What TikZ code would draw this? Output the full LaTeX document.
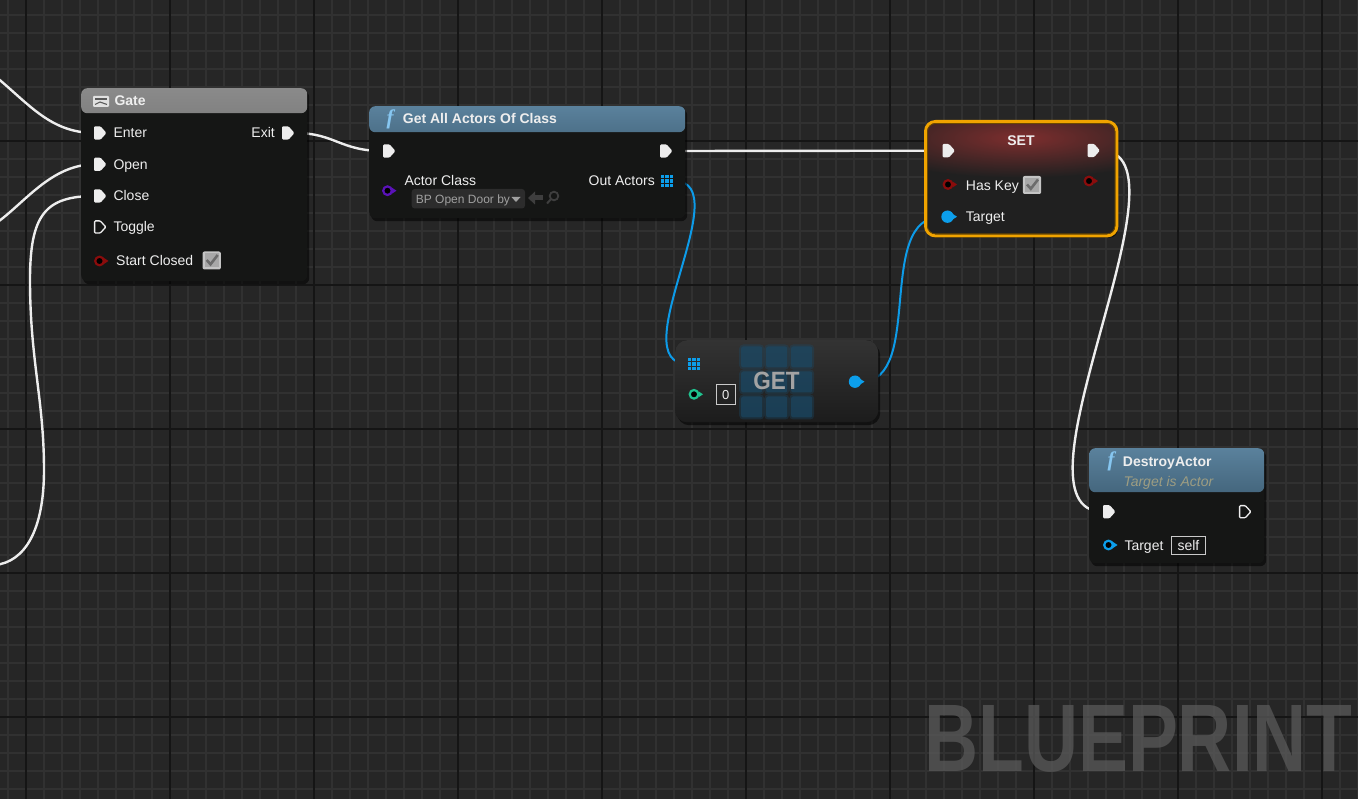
\documentclass[tikz,border=0pt]{standalone}
\usepackage{fontspec}
\setmainfont{Liberation Sans}
\newfontfamily\iconfont{Liberation Serif}
\usetikzlibrary{shadows}
\newcommand\bpfs[1]{\fontsize{#1}{#1}\selectfont}
\definecolor{bg}{HTML}{262626}
\definecolor{gridminor}{HTML}{313131}
\definecolor{gridmajor}{HTML}{151515}
\definecolor{nodebody}{HTML}{151615}
\definecolor{execw}{HTML}{EDEDED}
\definecolor{wireblue}{HTML}{0D9BE8}
\definecolor{pinred}{HTML}{8A0C0C}
\definecolor{pinpurple}{HTML}{5A12B8}
\definecolor{pinblue}{HTML}{0C9EEB}
\definecolor{pingreen}{HTML}{1FC28E}
\definecolor{txt}{HTML}{EEEEEE}
\definecolor{selorange}{HTML}{F0A300}
\definecolor{gatetop}{HTML}{8A8A8A}
\definecolor{gatebot}{HTML}{4A4A4A}
\definecolor{ftop}{HTML}{5A819C}
\definecolor{fbot}{HTML}{233C4D}
\definecolor{fblue}{HTML}{86C6F0}
\definecolor{setred}{HTML}{7E2E2E}
\definecolor{setsheen}{HTML}{404040}
\definecolor{setbody}{HTML}{202020}
\definecolor{gettop}{HTML}{333333}
\definecolor{getbot}{HTML}{1C1C1C}
\definecolor{getgrid}{HTML}{1A4A68}
\definecolor{subtxt}{HTML}{9D9D82}
\definecolor{dimicon}{HTML}{3E3E3E}
\definecolor{ddtxt}{HTML}{A0A0A0}
\definecolor{ddbox}{HTML}{2C2C2C}
\definecolor{cbframe}{HTML}{C4C4C4}
\definecolor{cbin}{HTML}{A8A8A8}
\definecolor{cbcheck}{HTML}{6C6C6C}
\definecolor{wm}{HTML}{5A5A5A}
\begin{document}
\begin{tikzpicture}[x=1pt,y=-1pt,
  bpshadow/.style={drop shadow={shadow xshift=2pt,shadow yshift=-3pt,opacity=0.55,fill=black}},
  bpbox/.style={rounded corners=6pt, fill=nodebody, inner sep=0pt, anchor=north west, bpshadow},
  hdr/.style n args={3}{path picture={\shade[top color=#1,bottom color=#2] (path picture bounding box.north west) rectangle ([yshift=-#3pt]path picture bounding box.north east);}},
  lbl/.style={text=txt, font=\bpfs{14}, inner sep=0pt, anchor=base west},
  lblr/.style={lbl, anchor=base east},
  ttl/.style={lbl, font=\bfseries\bpfs{14}},
  ficon/.style={text=fblue, inner sep=0pt, font=\iconfont\bfseries\itshape\bpfs{21}},
  execwire/.style={execw, line width=2.4pt},
  datawire/.style={wireblue, line width=2pt},
  pics/execF/.style={code={\fill[execw,rounded corners=1.2pt] (-6,-6.7) -- (0.5,-6.7) -- (6.5,0) -- (0.5,6.7) -- (-6,6.7) -- cycle;}},
  pics/execH/.style={code={\draw[execw,line width=1.3pt,rounded corners=1pt] (-5.4,-6.1) -- (0.3,-6.1) -- (5.8,0) -- (0.3,6.1) -- (-5.4,6.1) -- cycle;}},
  pics/pinH/.style={code={\fill[#1] (4.5,-3) -- (9,0) -- (4.5,3) -- cycle; \draw[#1,line width=2.2pt,fill=black] (0,0) circle (4.3);}},
  pics/pinF/.style={code={\fill[#1] (4.5,-3.2) -- (9.5,0) -- (4.5,3.2) -- cycle; \fill[#1] (0,0) circle (6.2);}},
  pics/arraypin/.style={code={\foreach \i in {-4.2,0,4.2}{\foreach \j in {-4.2,0,4.2}{\fill[#1] (\i-1.6,\j-1.6) rectangle (\i+1.6,\j+1.6);}}}},
  pics/checkbox/.style={code={\fill[cbframe,rounded corners=2pt] (-9.2,-9) rectangle (9.2,9); \fill[cbin] (-7,-7) rectangle (7,7); \draw[cbcheck,line width=2.6pt] (-5,-0.5) -- (-1.2,3.8) -- (6,-5.5);}}
]
\useasboundingbox (0,0) rectangle (1358,799);
\begin{scope}
\clip (0,0) rectangle (1358,799);
% ---------- background grid ----------
\fill[bg] (0,0) rectangle (1358,799);
\foreach \x in {8,26,...,1358} \draw[gridminor,line width=1.5pt] (\x,0) -- (\x,799);
\foreach \y in {15,33,...,799} \draw[gridminor,line width=1.5pt] (0,\y) -- (1358,\y);
\foreach \x in {26,170,...,1358} \draw[gridmajor,line width=2pt] (\x,0) -- (\x,799);
\foreach \y in {141,285,...,799} \draw[gridmajor,line width=2pt] (0,\y) -- (1358,\y);
% ---------- watermark ----------
\node[anchor=base west, inner sep=0pt, text=wm, text opacity=0.75, font=\bfseries\bpfs{96}] (wmark) at (924,771) {\scalebox{0.78}[1]{BLUEPRINT}};
% ---------- pin coordinates ----------
\coordinate (gEnter) at (100,133);
\coordinate (gOpen) at (100,164.3);
\coordinate (gClose) at (100,196);
\coordinate (gToggle) at (100,227);
\coordinate (gStart) at (99.5,261);
\coordinate (gExit) at (288,133);
\coordinate (aIn) at (389,151);
\coordinate (aOut) at (666,151);
\coordinate (aClass) at (387.5,190.7);
\coordinate (aActors) at (667,181);
\coordinate (sIn) at (948.5,150.7);
\coordinate (sOut) at (1093.5,150.5);
\coordinate (sKey) at (948,184.5);
\coordinate (sKeyOut) at (1089,181);
\coordinate (sTarget) at (947.5,216.7);
\coordinate (tArr) at (694,364);
\coordinate (tIdx) at (694,394.3);
\coordinate (tOut) at (855,381.7);
\coordinate (dIn) at (1109,511.7);
\coordinate (dOut) at (1245,511.7);
\coordinate (dTarget) at (1108.5,545);
% free ends and waypoints of wires
\coordinate (w1) at (-5,76);
\coordinate (w2) at (-5,224);
\coordinate (w3) at (-5,565);
\coordinate (c3a) at (30,280);
\coordinate (c3b) at (44,470);
% ---------- wires ----------
\draw[execwire] (w1) .. controls +(35,29) and +(-44,0) .. ([xshift=-5pt]gEnter);
\draw[execwire] (w2) .. controls +(30,-21) and +(-44,0) .. ([xshift=-5pt]gOpen);
\draw[execwire] ([xshift=-5pt]gClose) .. controls +(-50,0) and +(0,-65) .. (c3a)
   .. controls +(0,80) and +(0,-70) .. (c3b) .. controls +(0,60) and +(30,-3) .. (w3);
\draw[execwire] ([xshift=7pt]gExit) .. controls +(40,0) and +(-43,0) .. ([xshift=-6pt]aIn);
\draw[execwire] ([xshift=7pt]aOut) -- ([xshift=-6pt]sIn);
\draw[datawire] ([xshift=7pt]aActors) .. controls +(66,0) and +(-68,0) .. ([xshift=-6pt]tArr);
\draw[datawire] ([xshift=6pt]tOut) .. controls +(64,0) and +(-67,0) .. ([xshift=-6pt]sTarget);
\draw[execwire] ([xshift=7pt]sOut) .. controls +(100,0) and +(-103,0) .. ([xshift=-6pt]dIn);
% ---------- Gate node ----------
\node[bpbox, hdr={gatetop}{gatebot}{25}, minimum width=226pt, minimum height=193pt] (gate) at (81,88) {};
\fill[white!88!black, rounded corners=1pt] (93,96) rectangle (109,107);
\draw[gray!70!black, line width=1.1pt] (95,99) -- (107,99);
\draw[gray!70!black, line width=1.1pt] (95,104.5) -- (100,102) -- (107,104.5);
\node[ttl] (gateT) at (114.3,106) {Gate};
\pic at (gEnter) {execF};
\pic at (gOpen) {execF};
\pic at (gClose) {execF};
\pic at (gToggle) {execH};
\pic at (gStart) {pinH=pinred};
\pic at (gExit) {execF};
\node[lbl] (gEnterL) at (113.3,138) {Enter};
\node[lbl] (gOpenL) at (113.3,169.3) {Open};
\node[lbl] (gCloseL) at (113.3,201) {Close};
\node[lbl] (gToggleL) at (113.3,232) {Toggle};
\node[lbl] (gStartL) at (116,266) {Start Closed};
\node[lblr] (gExitL) at (275,138) {Exit};
\pic at (211.7,260.5) {checkbox};
% ---------- Get All Actors Of Class ----------
\node[bpbox, hdr={ftop}{fbot}{26}, minimum width=316pt, minimum height=112pt] (gaac) at (369,106) {};
\node[ficon] (gaacF) at (390,119.5) {f};
\node[ttl] (gaacT) at (402.7,124) {Get All Actors Of Class};
\pic at (aIn) {execF};
\pic at (aOut) {execF};
\pic at (aClass) {pinH=pinpurple};
\pic at (aActors) {arraypin=pinblue};
\node[lbl] (aClassL) at (404.3,186) {Actor Class};
\node[lblr] (aActorsL) at (655,186) {Out Actors};
\fill[ddbox, rounded corners=3pt] (411.7,189) rectangle (525,208.5);
\node[lbl, text=ddtxt, font=\bpfs{12}] (ddT) at (415.7,203.3) {BP Open Door by};
\fill[ddtxt] (511.5,197) -- (520.5,197) -- (516,202) -- cycle;
\fill[dimicon] (528,198) -- (535,191.5) -- (535,204.5) -- cycle;
\fill[dimicon] (534,195.5) rectangle (543,200.5);
\draw[dimicon, line width=1.8pt] (554,196) circle (4.3);
\draw[dimicon, line width=2pt] (550.8,199.3) -- (547,203.5);
% ---------- SET ----------
\node[rounded corners=8pt, minimum width=189pt, minimum height=112pt, inner sep=0pt, anchor=north west,
      fill=setbody, bpshadow,
      path picture={
        \shade[top color=setsheen, bottom color=setbody] (path picture bounding box.north west) rectangle ([yshift=-16pt]path picture bounding box.north east);
        \shade[inner color=setred, outer color=setbody] ([yshift=-15pt]path picture bounding box.north) ellipse (170 and 40);
      }] (set) at (926.5,122.5) {};
\draw[selorange, line width=3pt, rounded corners=10pt] ([xshift=-1pt,yshift=1pt]set.north west) rectangle ([xshift=1pt,yshift=-1pt]set.south east);
\draw[selorange!45!black, line width=0.8pt, rounded corners=8pt] ([xshift=1pt,yshift=-1pt]set.north west) rectangle ([xshift=-1pt,yshift=1pt]set.south east);
\node[ttl, anchor=base] (setT) at (1021,145.7) {SET};
\pic at (sIn) {execF};
\pic at (sOut) {execF};
\pic at (sKey) {pinH=pinred};
\pic at (sKeyOut) {pinH=pinred};
\pic at (sTarget) {pinF=pinblue};
\node[lbl] (sKeyL) at (965.7,190.7) {Has Key};
\node[lbl] (sTargetL) at (965.7,221.7) {Target};
\pic at (1032,185) {checkbox};
% ---------- GET ----------
\node[rounded corners=12pt, minimum width=203pt, minimum height=82pt, inner sep=0pt, anchor=north west, bpshadow,
      fill=getbot,
      path picture={\shade[top color=gettop, bottom color=getbot] (path picture bounding box.north west) rectangle (path picture bounding box.south east);}] (get) at (675,340) {};
\foreach \i in {-25,0,25}{\foreach \j in {-25,0,25}{
  \fill[getgrid, opacity=0.35, rounded corners=4pt] (776.7+\i-12.5,382+\j-12.5) rectangle (776.7+\i+12.5,382+\j+12.5);
  \fill[getgrid, opacity=0.6, rounded corners=2pt] (776.7+\i-10.5,382+\j-10.5) rectangle (776.7+\i+10.5,382+\j+10.5);}}
\node[anchor=base, inner sep=0pt, text=gray!72, font=\bfseries\bpfs{25}] (getT) at (776.5,390) {\scalebox{0.9}[1]{GET}};
\pic at (tArr) {arraypin=pinblue};
\pic at (tIdx) {pinH=pingreen};
\pic at (tOut) {pinF=pinblue};
\draw[txt!85!black, line width=1pt] (716,384.5) rectangle (735.5,404.5);
\node[anchor=base, inner sep=0pt, text=txt, font=\bpfs{13}] (idxT) at (725.8,399.3) {0};
% ---------- DestroyActor ----------
\node[bpbox, hdr={ftop}{fbot}{44}, minimum width=175pt, minimum height=115pt] (destroy) at (1089,448) {};
\node[ficon] (dF) at (1111,461.5) {f};
\node[ttl] (dT) at (1122.7,466.7) {DestroyActor};
\node[lbl, text=subtxt, font=\itshape\bpfs{14}] (dSub) at (1123.3,486) {Target is Actor};
\pic at (dIn) {execF};
\pic at (dOut) {execH};
\pic at (dTarget) {pinH=pinblue};
\node[lbl] (dTargetL) at (1124.3,550) {Target};
\draw[txt!85!black, line width=1pt] (1171,536) rectangle (1205.7,554.3);
\node[anchor=base, inner sep=0pt, text=txt, font=\bpfs{14}] (selfT) at (1188.4,550) {self};
\end{scope}
\end{tikzpicture}
\end{document}
